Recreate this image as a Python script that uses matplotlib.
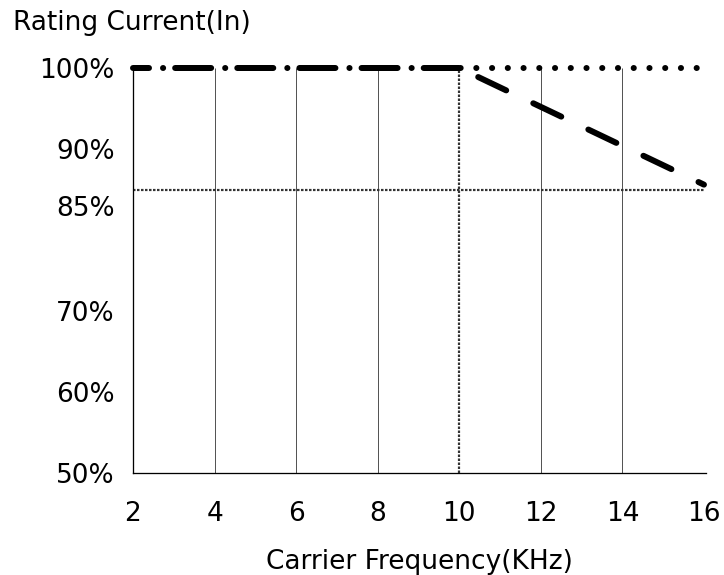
import matplotlib
matplotlib.use('Agg')
import matplotlib.pyplot as plt
import matplotlib.transforms as mtransforms

# axis ticks
freq_ticks = [2, 4, 6, 8, 10, 12, 14, 16]
pct_ticks = [50, 60, 70, 85, 90, 100]
pct_labels = ['50%', '60%', '70%', '85%', '90%', '100%']
grid_x = [4, 6, 8, 12, 14]

# curves
rated_x = [2, 10]
rated_y = [100, 100]
nominal_x = [10, 16]
nominal_y = [100, 100]
derate_x = [10, 16]
derate_y = [100, 85.6]

# reference lines
ref_freq = 10
ref_pct = 85

plt.rcParams['font.family'] = 'DejaVu Sans'
plt.rcParams['font.size'] = 19
plt.rcParams['lines.scale_dashes'] = False

px = 0.72  # points per pixel at dpi 100

fig = plt.figure(figsize=(7.24, 5.75), dpi=100)
ax = fig.add_axes([133 / 724, 102 / 575, 573 / 724, 405 / 575])

ax.vlines(grid_x, 50, 100, color='#555555', lw=1 * px, zorder=1)
ax.plot([2, 16], [ref_pct, ref_pct], color='#333333', lw=2.2 * px,
        linestyle=(0, (2.5 * px, 1.5 * px)), dash_capstyle='butt', zorder=2)
ax.plot([ref_freq, ref_freq], [50, 100], color='#333333', lw=2.2 * px,
        linestyle=(0, (2.5 * px, 1.5 * px)), dash_capstyle='butt', zorder=2)

thick = 6 * px
ax.plot(rated_x, rated_y, color='black', lw=thick, dash_capstyle='round',
        linestyle=(20 * px, (36 * px, 14 * px, 0.1, 12 * px)), clip_on=False, zorder=3)
ax.plot(nominal_x, nominal_y, color='black', lw=thick, dash_capstyle='round',
        linestyle=(14.2 * px, (0.1, 15.6 * px)), clip_on=False, zorder=3)
ax.plot(derate_x, derate_y, color='black', lw=thick, dash_capstyle='round',
        linestyle=(40 * px, (31 * px, 30 * px)), clip_on=False, zorder=3)

ax.set_xlim(2, 16.05)
ax.set_ylim(50, 100)
ax.set_xticks(freq_ticks)
ax.set_yticks(pct_ticks)
ax.set_yticklabels(pct_labels)
ax.tick_params(axis='x', length=0, pad=20)
ax.tick_params(axis='y', length=0, pad=13)

# the 85% label sits a little lower in the original drawing
for t in ax.get_yticklabels():
    if t.get_text() == '85%':
        t.set_transform(t.get_transform() +
                        mtransforms.ScaledTranslation(0, -16 / 100, fig.dpi_scale_trans))

ax.spines['top'].set_visible(False)
ax.spines['right'].set_visible(False)
ax.spines['left'].set_linewidth(1.3 * px)
ax.spines['bottom'].set_linewidth(1.3 * px)

ax.set_xlabel('Carrier Frequency(KHz)', labelpad=16)
fig.text(13 / 724, 1 - 23 / 575, 'Rating Current(In)', ha='left', va='center')

fig.savefig('out.png', dpi=100)
